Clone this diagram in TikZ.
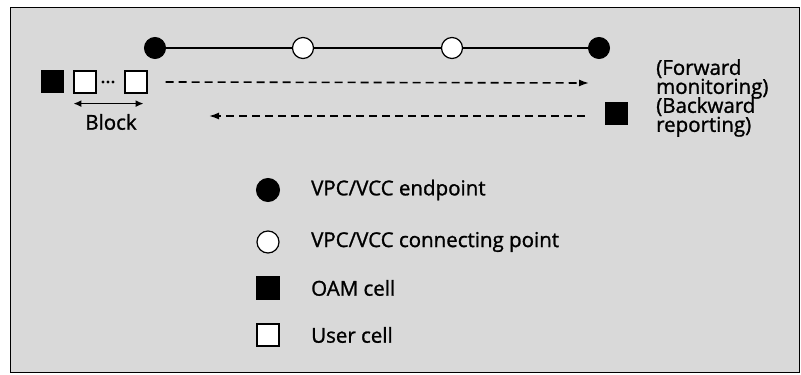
\documentclass[tikz,border=0pt]{standalone}
\usepackage{fontspec}
\setmainfont{Open Sans}[FakeBold=1.2,AutoFakeBold=1.2]
\usetikzlibrary{arrows.meta,positioning}
\tikzset{
  endpt/.style={circle,draw,fill=black,line width=1pt,minimum size=21pt,inner sep=0pt},
  connpt/.style={circle,draw,fill=white,line width=1.2pt,minimum size=21pt,inner sep=0pt},
  oamcell/.style={rectangle,draw,fill=black,line width=1pt,minimum size=22pt,inner sep=0pt},
  usercell/.style={rectangle,draw,fill=white,line width=1.2pt,minimum size=22pt,inner sep=0pt},
  flow/.style={line width=1.6pt,dash pattern=on 8pt off 5pt,-{Latex[length=10pt,width=7pt]}},
  legtext/.style={anchor=west,inner sep=0pt}
}
\begin{document}
\begin{tikzpicture}[x=1pt,y=1pt,every node/.style={font=\fontsize{20.5}{19}\selectfont\bfseries}]
  \useasboundingbox (0,0) rectangle (801,375);
  \fill[white] (0,0) rectangle (801,375);
  \draw[fill=black!15,line width=1pt] (10,2) rectangle (799,367);
  % connection with its end and connecting points
  \node[endpt] (ep1) at (155,327) {};
  \node[connpt] (cp1) at (303,327) {};
  \node[connpt] (cp2) at (452,327) {};
  \node[endpt] (ep2) at (599,327) {};
  \draw[line width=1.5pt] (ep1) -- (cp1) (cp1) -- (cp2) (cp2) -- (ep2);
  % cell stream and block
  \node[oamcell] (oam1) at (52,293) {};
  \node[usercell] (u1) at (85,293) {};
  \node[usercell] (u2) at (136,293) {};
  \foreach \dx in {103,108,113} \fill (\dx,293) circle (1.6pt);
  \draw[line width=1.8pt,{Latex[length=8pt,width=7pt]}-{Latex[length=8pt,width=7pt]}]
    ([yshift=-10pt]u1.south west) coordinate (bl) -- ([xshift=-4pt,yshift=-10pt]u2.south east) coordinate (br);
  \node (block) at (111,253) {Block};
  % forward monitoring and backward reporting
  \coordinate (fwdend) at (589,292);
  \draw[flow] ([xshift=18pt]u2.east) -- (fwdend);
  \node[oamcell] (oam2) at (616,261) {};
  \coordinate (bwdend) at (209,259);
  \draw[flow] ([xshift=-20pt]oam2.west |- bwdend) -- (bwdend);
  \node[align=left,anchor=west,inner sep=0pt] (fwd) at (656,296) {(Forward\\monitoring)};
  \node[align=left,anchor=west,inner sep=0pt] (bwd) at (656,258) {(Backward\\reporting)};
  % legend
  \node[endpt,minimum size=23pt] (lg1) at (268,185) {};
  \node[connpt,minimum size=22pt] (lg2) at (268,133) {};
  \node[oamcell,minimum size=23pt] (lg3) at (268,87) {};
  \node[usercell,minimum size=22pt] (lg4) at (268,40) {};
  \node[legtext] at (311,185) {VPC/VCC endpoint};
  \node[legtext] at (311,133) {VPC/VCC connecting point};
  \node[legtext] at (311,87) {OAM cell};
  \node[legtext] at (311,40) {User cell};
\end{tikzpicture}
\end{document}
